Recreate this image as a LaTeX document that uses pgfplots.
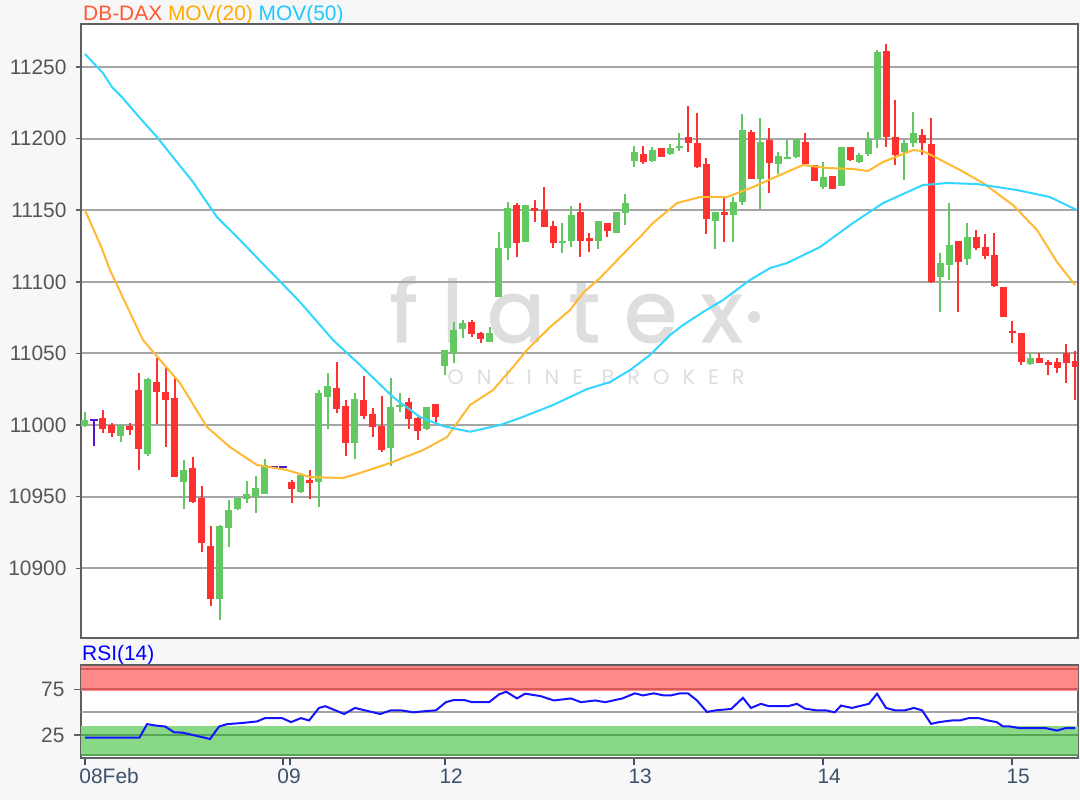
\documentclass[border=0pt]{standalone}
\usepackage{fontspec}
\setmainfont{Liberation Sans}
\newfontfamily\wmfont{Poppins}
\usepackage{pgfplots}
\usepackage{pgfplotstable}
\pgfplotsset{compat=1.18}

\definecolor{figbg}{RGB}{247,247,247}
\definecolor{gridgray}{RGB}{165,165,165}
\definecolor{axisgray}{RGB}{95,95,95}
\definecolor{labelgray}{RGB}{85,85,85}
\definecolor{xlab}{RGB}{60,82,108}
\definecolor{candgreen}{RGB}{98,200,98}
\definecolor{candred}{RGB}{255,48,48}
\definecolor{doji}{RGB}{80,20,210}
\definecolor{maorange}{RGB}{255,185,50}
\definecolor{macyan}{RGB}{50,215,255}
\definecolor{ttlred}{RGB}{255,88,50}
\definecolor{ttlorange}{RGB}{255,170,0}
\definecolor{ttlcyan}{RGB}{30,200,255}
\definecolor{rsiblue}{RGB}{20,20,255}
\definecolor{bandred}{RGB}{255,136,136}
\definecolor{bandredline}{RGB}{215,90,90}
\definecolor{bandgreen}{RGB}{136,216,136}
\definecolor{bandgreenline}{RGB}{85,165,85}
\definecolor{wm}{RGB}{222,222,222}

% hourly candles, x = candle slot
\pgfplotstableread{
x o h l c
0 10999.3 11009.1 10998.6 11003.5
4 10992.3 11000.0 10988.1 11000.0
7 10979.7 11032.8 10978.4 11032.1
11 10960.2 10975.6 10941.3 10968.6
15 10878.5 10930.2 10863.8 10929.5
16 10928.1 10947.6 10914.8 10940.6
17 10941.3 10949.0 10940.6 10949.0
18 10948.3 10960.9 10945.5 10951.8
19 10949.7 10964.4 10938.5 10956.0
20 10951.8 10976.3 10951.8 10972.1
24 10953.2 10966.5 10952.5 10965.1
26 10960.2 11024.4 10942.7 11022.3
27 11019.6 11036.3 10997.2 11027.2
30 10987.4 11022.3 10976.3 11018.2
34 10983.9 11032.8 10971.4 11012.6
35 11012.6 11022.3 11009.1 11014.0
38 10997.2 11012.6 10996.5 11012.6
40 11041.4 11052.4 11034.9 11052.4
41 11050.5 11072.1 11043.1 11066.3
42 11067.0 11073.3 11060.8 11071.2
45 11058.0 11068.4 11058.0 11064.2
46 11089.4 11134.8 11089.4 11123.6
47 11123.6 11155.7 11115.2 11151.5
49 11127.8 11153.6 11127.8 11153.6
53 11127.1 11141.1 11120.1 11128.5
54 11128.5 11152.9 11124.3 11146.6
57 11128.5 11142.5 11122.9 11142.5
59 11134.1 11148.7 11134.1 11148.7
60 11148.0 11161.3 11139.7 11155.0
61 11184.4 11194.8 11180.2 11190.6
63 11184.4 11194.1 11183.7 11192.0
65 11189.2 11196.2 11188.5 11193.4
66 11193.4 11203.9 11191.3 11194.8
70 11142.5 11148.7 11122.9 11148.7
72 11146.6 11159.2 11127.8 11155.7
73 11155.7 11217.2 11153.6 11206.0
75 11171.8 11214.4 11150.8 11197.6
77 11182.3 11190.6 11175.3 11187.8
78 11185.7 11199.0 11185.7 11187.1
79 11187.1 11199.7 11186.4 11199.7
82 11166.2 11183.7 11164.8 11173.2
84 11166.9 11194.1 11166.9 11194.1
86 11183.7 11189.9 11183.0 11188.5
87 11189.2 11204.6 11187.8 11199.7
88 11200.4 11261.9 11193.4 11260.5
91 11190.6 11199.0 11171.1 11196.9
92 11196.9 11218.6 11194.1 11203.9
95 11103.3 11120.1 11078.9 11113.1
96 11111.7 11155.0 11101.3 11125.7
98 11115.9 11141.1 11111.7 11131.3
105 11042.6 11050.3 11041.9 11046.8
}\upcandles

\pgfplotstableread{
x o h l c
2 11004.9 11010.5 10994.4 10997.2
3 11000.0 11001.4 10991.6 10994.4
5 10999.3 11001.4 10993.0 10996.5
6 11024.4 11036.3 10968.6 10983.2
8 11030.0 11046.8 11000.7 11023.0
9 11023.0 11039.8 10984.6 11017.5
10 11018.9 11032.8 10963.7 10963.7
12 10970.0 10977.7 10945.5 10946.2
13 10949.0 10957.4 10911.3 10917.6
14 10915.5 10929.5 10873.6 10878.5
23 10960.2 10961.6 10945.5 10955.3
25 10961.6 10968.6 10948.3 10959.5
28 11025.8 11044.0 11008.4 11011.2
29 11013.3 11017.5 10978.4 10987.4
31 11017.5 11034.2 11004.2 11006.3
32 11007.7 11011.9 10991.6 10998.6
33 10999.3 11020.3 10981.1 10982.5
36 11016.1 11018.9 10997.2 11004.2
37 11004.9 11005.6 10989.5 10995.8
39 11014.7 11014.7 11001.4 11005.6
43 11071.9 11073.3 11061.5 11063.5
44 11064.2 11064.9 11057.3 11060.1
48 11153.6 11155.0 11117.3 11127.1
50 11151.5 11157.1 11141.8 11149.4
51 11150.1 11166.2 11138.3 11138.3
52 11139.0 11142.5 11123.6 11127.1
55 11148.7 11155.0 11117.3 11128.5
56 11130.6 11134.1 11120.8 11128.5
58 11141.1 11141.1 11131.3 11135.5
62 11189.2 11194.8 11182.3 11183.7
64 11193.4 11193.4 11187.1 11187.1
67 11201.1 11222.8 11190.6 11196.9
68 11196.9 11217.9 11179.5 11180.2
69 11182.3 11186.4 11133.4 11143.9
71 11148.7 11158.5 11127.8 11146.6
74 11204.6 11206.0 11171.8 11171.8
76 11199.0 11207.4 11162.0 11183.0
80 11197.6 11203.9 11182.3 11182.3
81 11181.6 11181.6 11170.4 11170.4
83 11173.9 11173.9 11164.8 11164.8
85 11194.1 11194.1 11184.4 11185.0
89 11261.2 11266.1 11194.1 11201.1
90 11201.1 11226.9 11181.6 11188.5
93 11202.5 11206.7 11188.5 11196.9
94 11196.2 11214.4 11099.2 11099.9
97 11128.5 11128.5 11078.9 11113.8
99 11131.3 11136.2 11122.2 11123.6
100 11124.3 11133.4 11115.9 11118.0
101 11118.7 11134.1 11096.4 11097.1
102 11096.4 11096.4 11075.4 11075.4
103 11065.6 11072.6 11057.3 11064.2
104 11064.2 11064.2 11041.9 11044.0
106 11046.8 11050.3 11043.3 11043.3
107 11044.0 11045.4 11034.9 11041.9
108 11044.0 11046.8 11036.3 11039.8
109 11050.3 11056.6 11029.3 11043.3
110 11044.7 11051.7 11017.5 11040.5
}\downcandles

\pgfplotstableread{
x o h l c
1 11003.5 11004.2 10985.3 11003.5
21 10970.7 10970.7 10970.7 10970.7
22 10970.7 10970.7 10970.7 10970.7
}\dojis

\pgfplotstableread{
x y
0 11150.1
1.86 11123.6
2.78 11108.2
6.44 11059.4
10.56 11029.3
13.56 10998.6
16.11 10984.6
19.11 10972.1
22.44 10968.6
25 10963.7
28.67 10963.0
30.56 10966.5
33.89 10973.5
37.56 10982.5
40.22 10991.6
42.78 11014.0
45.33 11024.4
47.56 11040.5
49.11 11052.4
51.67 11068.4
53.89 11080.3
55.33 11092.2
57.22 11102.7
60.22 11122.2
61.67 11131.3
63.11 11141.1
65.78 11155.0
68.33 11159.2
71.33 11159.2
74.22 11166.2
77.22 11174.6
79.78 11181.6
82.44 11179.5
85.33 11178.8
87 11177.4
88.67 11183.7
92 11192.0
93.11 11191.3
94.67 11186.4
97.22 11178.1
99.78 11169.0
103.11 11153.6
105.78 11136.2
108 11113.8
110 11097.8
}\movtwenty

\pgfplotstableread{
x y
0 11259.1
2 11245.8
3 11236.0
4.11 11229.0
6.11 11214.4
8 11201.1
12 11169.7
14.67 11145.2
17.22 11129.2
23.89 11085.9
27.56 11059.4
30.56 11041.9
34.22 11019.6
37.22 11005.6
39.78 10999.3
42.78 10995.3
46.11 11000.0
48.33 11004.9
52 11014.0
55.78 11025.1
58.33 11030.0
60.56 11038.4
62.78 11048.9
65 11062.8
66.44 11069.8
68.67 11078.9
70.89 11087.3
73.89 11101.3
76.11 11109.6
78 11113.1
81.67 11124.3
85.33 11141.1
88.67 11155.0
93.11 11167.6
95.78 11169.0
99.11 11168.3
103.56 11164.1
107.22 11159.2
110.2 11150.1
}\movfifty

\pgfplotstableread{
x y
0 22.0
6.05 22.0
6.9 36.9
7.8 35.4
8.9 34.3
9.9 28.0
10.8 27.6
12 25.0
13.9 20.6
14.9 34.3
15.8 36.9
17.3 38.0
19.1 39.8
20 43.5
21.9 43.5
22.9 39.1
24 43.5
24.9 40.9
26 54.6
26.7 56.5
28.8 48.0
30 54.6
31.1 52.0
32.8 48.0
34 52.0
35.1 52.0
36.5 49.8
37.6 50.9
39 52.0
40.1 60.9
40.9 63.1
42.2 63.1
43 60.9
44.9 60.9
46 69.4
46.8 72.4
48 65.0
48.9 70.2
50.6 67.6
52.1 62.8
54 65.0
55.1 60.9
56.7 62.8
57.8 60.9
59.7 65.0
61.1 70.6
62 68.3
63.2 70.6
64.3 68.3
65.1 68.3
66.1 70.6
67 70.6
68 62.8
69.1 50.2
70.1 52.0
71.8 53.5
73.1 65.7
74 54.6
75.1 59.1
76 56.5
78.1 56.5
79.1 59.1
80 53.9
81.2 52.0
82.3 52.0
83.3 49.8
84 57.2
85.2 54.6
87.1 59.1
88 70.2
89 54.6
90 52.0
91.1 52.0
92.1 54.6
93 52.0
94 37.2
94.9 39.1
96.3 40.9
97.2 40.9
98.2 43.5
99.3 43.5
100.3 40.9
101.3 39.1
102 34.3
102.8 34.3
103.9 32.4
106.8 32.4
108 29.8
108.9 32.4
110 32.4
}\rsi

% wick or body drawn as a vertical error bar: #1 width, #2 colour
\pgfplotsset{
  candle/.style 2 args={forget plot, draw=none, no markers,
    error bars/.cd, y dir=minus, y explicit, error mark=none,
    error bar style={line width=#1, draw=#2}},
}

\begin{document}
\begin{tikzpicture}
\useasboundingbox (0,0) rectangle (1080bp,800bp);
\fill[figbg] (0,0) rectangle (1080bp,800bp);
\fill[white] (81bp,162bp) rectangle (1078bp,775.5bp);

% watermark
\node[text=wm, anchor=base, inner sep=0pt,
  font=\wmfont\fontsize{86}{90}\selectfont\addfontfeature{LetterSpace=28,FakeBold=1.5}]
  at (566bp,458bp) {flatex};
\fill[wm] (754bp,483bp) circle (6bp);
\node[text=wm, anchor=base, inner sep=0pt,
  font=\wmfont\fontsize{21}{25}\selectfont\addfontfeature{LetterSpace=62}]
  at (596bp,415bp) {ONLINE BROKER};

\node[anchor=base west, inner sep=0pt, font=\fontsize{21}{25}\selectfont]
  at (83bp,779bp) {\textcolor{ttlred}{DB-DAX} \textcolor{ttlorange}{MOV(20)} \textcolor{ttlcyan}{MOV(50)}};
\node[anchor=base west, inner sep=0pt, text=blue, font=\fontsize{21}{25}\selectfont]
  at (82bp,139bp) {RSI(14)};

\begin{axis}[
  at={(81bp,162bp)}, anchor=south west,
  width=997bp, height=613.5bp, scale only axis,
  xmin=-0.44, xmax=110.33, ymin=10851.3, ymax=11279.7,
  xtick=\empty,
  ytick={10900,10950,...,11250},
  scaled y ticks=false,
  ytick pos=left,
  ymajorgrids,
  grid style={draw=gridgray, line width=2bp},
  tick align=outside, major tick length=5bp,
  tick style={draw=axisgray, line width=1.5bp},
  yticklabel style={font=\fontsize{21}{25}\selectfont, text=labelgray, xshift=-6bp},
  /pgf/number format/1000 sep={},
  /pgf/number format/assume math mode=true,
  axis line style={draw=axisgray, line width=2bp},
]
\addplot[candle={2bp}{candgreen}]
  table[x=x, y=h, y error expr=\thisrow{h}-\thisrow{l}] {\upcandles};
\addplot[candle={7bp}{candgreen}]
  table[x=x, y=c, y error expr=\thisrow{c}-\thisrow{o}] {\upcandles};
\addplot[candle={2bp}{candred}]
  table[x=x, y=h, y error expr=\thisrow{h}-\thisrow{l}] {\downcandles};
\addplot[candle={7bp}{candred}]
  table[x=x, y=o, y error expr=\thisrow{o}-\thisrow{c}] {\downcandles};
\addplot[candle={2bp}{doji}]
  table[x=x, y=h, y error expr=\thisrow{h}-\thisrow{l}] {\dojis};
\addplot[forget plot, draw=none, no markers,
  error bars/.cd, x dir=both, x fixed=0.42, error mark=none,
  error bar style={line width=2bp, draw=doji}]
  table[x=x, y=o] {\dojis};
\addplot[maorange, line width=2bp] table[x=x, y=y] {\movtwenty};
\addplot[macyan, line width=2bp] table[x=x, y=y] {\movfifty};
\end{axis}

\begin{axis}[
  at={(81bp,41.7bp)}, anchor=south west,
  width=997bp, height=93.3bp, scale only axis,
  xmin=-0.44, xmax=110.33, ymin=-0.5, ymax=101.6,
  axis background/.style={fill=white},
  xtick={0,22,40,61,82,103},
  xticklabels={08Feb,09,12,13,14,15},
  extra x ticks={22.8}, extra x tick labels={},
  ytick={25,75},
  xtick pos=bottom, ytick pos=left,
  tick align=outside, major tick length=7bp,
  x tick style={draw=xlab, line width=2bp},
  y tick style={draw=axisgray, line width=1.5bp},
  extra x tick style={x tick style={draw=xlab, line width=2bp}},
  xticklabel style={font=\fontsize{21}{25}\selectfont, text=xlab, anchor=north west, xshift=-9bp},
  yticklabel style={font=\fontsize{21}{25}\selectfont, text=labelgray, xshift=-6bp},
  /pgf/number format/assume math mode=true,
  axis line style={draw=axisgray, line width=2bp},
]
\addplot[fill=bandred, draw=none, forget plot] coordinates {(-1,73.5) (112,73.5) (112,100.5) (-1,100.5)} -- cycle;
\addplot[fill=bandgreen, draw=none, forget plot] coordinates {(-1,2) (112,2) (112,35) (-1,35)} -- cycle;
\addplot[bandredline, line width=2bp, forget plot] coordinates {(-1,75) (112,75)};
\addplot[bandredline, line width=2bp, forget plot] coordinates {(-1,97.2) (112,97.2)};
\addplot[bandgreenline, line width=2bp, forget plot] coordinates {(-1,25) (112,25)};
\addplot[bandgreenline, line width=2bp, forget plot] coordinates {(-1,3.3) (112,3.3)};
\addplot[gridgray, line width=2bp, forget plot] coordinates {(-1,50) (112,50)};
\addplot[rsiblue, line width=2bp] table[x=x, y=y] {\rsi};
\end{axis}
\end{tikzpicture}
\end{document}
